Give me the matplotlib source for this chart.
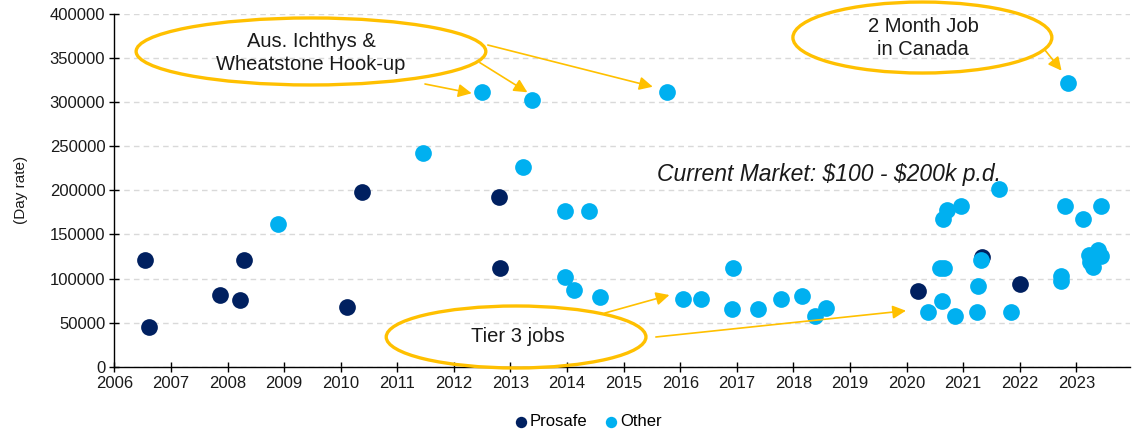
import matplotlib
matplotlib.use("Agg")
import matplotlib.pyplot as plt
from matplotlib.patches import Ellipse

plt.rcParams['font.family'] = ['Liberation Sans', 'DejaVu Sans']

# ---- data ----
prosafe_x = [2006.55, 2006.62, 2007.87, 2008.22, 2008.29, 2010.12, 2010.37,
             2012.80, 2012.81, 2020.21, 2021.34, 2022.01]
prosafe_y = [121000, 45000, 81000, 76000, 121000, 68000, 198000,
             192000, 112000, 86000, 124000, 94000]

other_x = [2008.90, 2011.46, 2012.50, 2013.23, 2013.39, 2013.96, 2013.96, 2014.13,
           2014.39, 2014.58, 2015.76, 2016.05, 2016.37, 2016.92, 2016.94, 2017.37,
           2017.79, 2018.16, 2018.39, 2018.57, 2020.38, 2020.60, 2020.62, 2020.65,
           2020.66, 2020.72, 2020.85, 2020.97, 2021.25, 2021.27, 2021.31, 2021.64,
           2021.84, 2022.73, 2022.73, 2022.80, 2022.85, 2023.12, 2023.23, 2023.25,
           2023.30, 2023.39, 2023.43, 2023.43]
other_y = [162000, 242000, 312000, 226000, 302000, 177000, 102000, 87000,
           177000, 79000, 312000, 77000, 77000, 66000, 112000, 66000,
           77000, 80000, 58000, 67000, 62000, 112000, 74000, 167000,
           112000, 178000, 58000, 182000, 62000, 91000, 121000, 202000,
           62000, 103000, 97000, 182000, 322000, 167000, 127000, 119000,
           113000, 132000, 126000, 182000]

x_ticks = list(range(2006, 2024))
y_ticks = list(range(0, 400001, 50000))

series_names = ["Prosafe", "Other"]
colors = ["#002060", "#00B0F0"]
gold = "#FFC000"

fig = plt.figure(figsize=(11.41, 4.33), dpi=100)
ax = fig.add_axes([0.1002, 0.1531, 0.8902, 0.8146])

ax.scatter(prosafe_x, prosafe_y, s=145, color=colors[0], label=series_names[0],
           zorder=3, linewidths=0)
ax.scatter(other_x, other_y, s=145, color=colors[1], label=series_names[1],
           zorder=4, linewidths=0)

ax.set_xlim(2006, 2023.95)
ax.set_ylim(0, 400000)
ax.set_xticks(x_ticks)
ax.set_xticklabels([str(t) for t in x_ticks])
ax.set_yticks(y_ticks)
ax.set_yticklabels([str(t) for t in y_ticks])

for s in ['top', 'right']:
    ax.spines[s].set_visible(False)
for s in ['left', 'bottom']:
    ax.spines[s].set_linewidth(1.0)
    ax.spines[s].set_color('#000000')

ax.tick_params(axis='both', direction='inout', length=7, width=1,
               labelsize=12, labelcolor='#1a1a1a', pad=3)
ax.yaxis.grid(True, linestyle=(0, (4, 3)), color='#d9d9d9', linewidth=1)
ax.set_axisbelow(True)

ax.set_ylabel("(Day rate)", fontsize=11, color='#1a1a1a')
ax.yaxis.set_label_coords(-0.085, 0.5)

# ---- annotations ----
ell_kw = dict(fill=False, edgecolor=gold, linewidth=2.4, clip_on=False, zorder=5)
ax.add_patch(Ellipse((2009.475, 357500), 6.18, 76000, **ell_kw))
ax.add_patch(Ellipse((2020.28, 373300), 4.576, 80500, **ell_kw))
ax.add_patch(Ellipse((2013.10, 33700), 4.59, 70300, **ell_kw))

txt_kw = dict(ha='center', va='center', fontsize=14.5, color='#1a1a1a',
              linespacing=1.25, zorder=6)
ax.text(2009.475, 356000, "Aus. Ichthys &\nWheatstone Hook-up", **txt_kw)
ax.text(2020.29, 372800, "2 Month Job\nin Canada", **txt_kw)
ax.text(2013.14, 33700, "Tier 3 jobs", **txt_kw)
ax.text(2018.63, 218500, "Current Market: \\$100 - \\$200k p.d.", ha='center',
        va='center', fontsize=16.5, style='italic', color='#1a1a1a', zorder=6)

arrows = [
    ((2011.49, 320600), (2012.315, 310100)),
    ((2012.46, 344800), (2013.30, 311200)),
    ((2012.60, 364800), (2015.515, 317500)),
    ((2022.445, 359200), (2022.74, 335700)),
    ((2014.67, 60900), (2015.81, 81300)),
    ((2015.57, 33700), (2019.99, 63500)),
]
for start, tip in arrows:
    ax.annotate("", xy=tip, xytext=start,
                arrowprops=dict(arrowstyle='-|>', color=gold, lw=1.2,
                                mutation_scale=20, shrinkA=0, shrinkB=0),
                zorder=6, annotation_clip=False)

fig.legend(loc='center', bbox_to_anchor=(587 / 1141, 1 - 422 / 433), ncol=2,
           frameon=False, fontsize=12, handletextpad=0.05, columnspacing=0.9,
           handlelength=1.0, markerscale=0.68, borderaxespad=0)

fig.savefig("out.png", dpi=100)
